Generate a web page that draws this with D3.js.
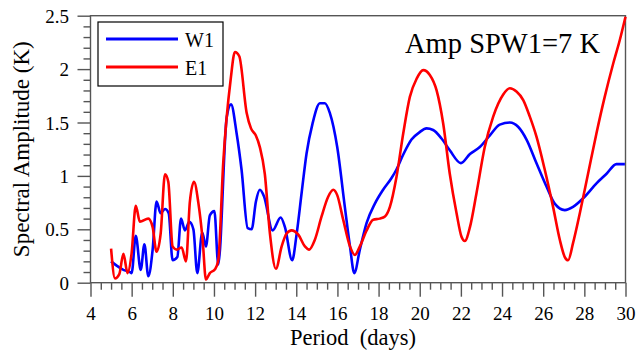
<!DOCTYPE html>
<html><head><meta charset="utf-8">
<script src="https://cdn.jsdelivr.net/npm/d3@7"></script>
<style>html,body{margin:0;padding:0;background:#fff;}</style></head>
<body><svg id="c" width="638" height="351"></svg>
<script>
// ---- data ----
const w1Period = [5.0,5.27,5.6,5.92,6.0,6.2,6.44,6.62,6.81,7.02,7.21,7.41,7.62,7.8,7.99,8.22,8.4,8.59,8.8,9.0,9.19,9.43,9.61,9.8,10.02,10.21,10.62,10.83,11.1,11.34,11.64,11.83,12.04,12.23,12.43,12.85,13.24,13.45,13.8,14.02,14.26,14.5,14.79,15.15,15.39,15.63,15.99,16.36,16.61,16.82,17.09,17.42,17.82,18.22,18.63,18.87,19.2,19.6,20.0,20.33,20.65,21.06,21.46,22.0,22.44,22.92,23.41,23.89,24.38,24.78,25.19,25.67,26.16,26.56,27.05,27.45,27.94,28.59,29.08,29.56,29.97];
const w1Amp = [0.20,0.16,0.12,0.10,0.09,0.44,0.12,0.36,0.06,0.31,0.76,0.65,0.69,0.65,0.21,0.24,0.60,0.49,0.57,0.50,0.09,0.47,0.34,0.63,0.67,0.17,1.55,1.67,1.40,1.06,0.51,0.50,0.76,0.87,0.81,0.49,0.61,0.52,0.21,0.46,0.84,1.21,1.49,1.68,1.68,1.59,1.27,0.71,0.34,0.09,0.31,0.56,0.74,0.87,0.98,1.06,1.20,1.34,1.41,1.445,1.43,1.35,1.24,1.12,1.205,1.27,1.38,1.48,1.50,1.46,1.34,1.12,0.90,0.74,0.68,0.71,0.79,0.93,1.02,1.11,1.11];
const e1Period = [5.0,5.19,5.4,5.6,5.8,6.0,6.2,6.4,6.81,7.02,7.21,7.41,7.62,7.78,7.99,8.19,8.43,8.64,8.83,9.03,9.24,9.45,9.61,9.8,10.05,10.21,10.45,10.81,11.02,11.23,11.59,11.8,12.03,12.23,12.47,12.72,13.01,13.29,13.53,13.77,14.1,14.42,14.63,14.9,15.23,15.55,15.8,15.99,16.28,16.61,16.85,17.09,17.42,17.74,18.06,18.31,18.55,18.87,19.2,19.52,19.85,20.17,20.49,20.82,21.14,21.46,21.79,22.03,22.19,22.44,22.76,23.16,23.57,24.05,24.38,24.7,25.03,25.35,25.67,26.08,26.48,26.81,27.05,27.21,27.45,27.78,28.18,28.59,28.99,29.4,29.72,30.0];
const e1Amp = [0.32,0.04,0.08,0.27,0.09,0.28,0.72,0.57,0.60,0.52,0.29,0.46,1.015,0.945,0.34,0.31,0.33,0.20,0.76,0.945,0.75,0.40,0.03,0.09,0.125,0.21,1.12,1.90,2.16,2.12,1.59,1.445,1.38,1.27,1.02,0.46,0.13,0.34,0.46,0.49,0.45,0.34,0.31,0.40,0.62,0.805,0.87,0.82,0.59,0.34,0.26,0.34,0.49,0.59,0.60,0.62,0.71,0.99,1.40,1.74,1.91,1.99,1.945,1.80,1.49,1.02,0.65,0.43,0.39,0.52,0.84,1.27,1.555,1.76,1.82,1.79,1.71,1.555,1.37,1.055,0.71,0.40,0.24,0.21,0.37,0.65,1.02,1.40,1.74,2.05,2.27,2.49];
const xTickLabels = [4,6,8,10,12,14,16,18,20,22,24,26,28,30];
const yTickLabels = [0,0.5,1,1.5,2,2.5];
const seriesNames = ["W1","E1"];
const seriesColors = ["#0000ff","#ff0000"];
const titleText = "Amp SPW1=7 K";

// ---- layout ----
const FONT = "'Liberation Serif'";
const L = 90.5, R = 625.5, T = 15.7, B = 282.7;
const axisColor = "#555";
const svg = d3.select("#c");
svg.append("rect").attr("width",638).attr("height",351).attr("fill","#fff");

const x = d3.scaleLinear().domain([4,30]).range([L,R]);
const y = d3.scaleLinear().domain([0,2.5]).range([B,T]);

const xMinor = d3.range(4,30.001,0.5).filter(v=>!xTickLabels.includes(v));
const yMinor = d3.range(0,2.5001,0.1).map(v=>+v.toFixed(2)).filter(v=>!yTickLabels.some(t=>Math.abs(t-v)<1e-6));

const gx = svg.append("g").attr("transform",`translate(0,${B})`);
gx.call(d3.axisBottom(x).tickValues(xMinor).tickSize(7).tickFormat(""));
gx.select(".domain").remove();
const gx2 = svg.append("g").attr("transform",`translate(0,${B})`);
gx2.call(d3.axisBottom(x).tickValues(xTickLabels).tickSize(14).tickFormat(d3.format("d")));
gx2.select(".domain").remove();
gx2.selectAll("text").attr("dy",null).attr("y",37.3).attr("fill","#000")
  .style("font-family",FONT).style("font-size","19px");

const gy = svg.append("g").attr("transform",`translate(${L},0)`);
gy.call(d3.axisLeft(y).tickValues(yMinor).tickSize(7).tickFormat(""));
gy.select(".domain").remove();
const gy2 = svg.append("g").attr("transform",`translate(${L},0)`);
gy2.call(d3.axisLeft(y).tickValues(yTickLabels).tickSize(13).tickFormat(d=>String(d)));
gy2.select(".domain").remove();
gy2.selectAll("text").attr("dy","0.35em").attr("x",-21.5).attr("fill","#000")
  .style("font-family",FONT).style("font-size","19px");

svg.selectAll(".tick line").attr("stroke",axisColor).attr("stroke-width",1.4);

svg.append("rect").attr("x",L).attr("y",T).attr("width",R-L).attr("height",B-T)
  .attr("fill","none").attr("stroke",axisColor).attr("stroke-width",1.4);

svg.append("clipPath").attr("id","pc").append("rect")
  .attr("x",L).attr("y",T-2).attr("width",R-L+2).attr("height",B-T+4);
const line = d3.line().x(d=>x(d[0])).y(d=>y(d[1])).curve(d3.curveMonotoneX);
const series = [d3.zip(w1Period,w1Amp), d3.zip(e1Period,e1Amp)];
series.forEach((s,i)=>{
  svg.append("path").datum(s).attr("d",line).attr("fill","none")
    .attr("stroke",seriesColors[i]).attr("stroke-width",2.6)
    .attr("stroke-linejoin","round").attr("clip-path","url(#pc)");
});

const lg = svg.append("g");
lg.append("rect").attr("x",98).attr("y",22).attr("width",125).attr("height",64)
  .attr("fill","#fff").attr("stroke","#000").attr("stroke-width",1.2);
seriesNames.forEach((n,i)=>{
  const yy = 39 + i*28;
  lg.append("line").attr("x1",106).attr("x2",178).attr("y1",yy).attr("y2",yy)
    .attr("stroke",seriesColors[i]).attr("stroke-width",2.8);
  lg.append("text").attr("x",185).attr("y",yy+7.5).style("font-family",FONT).style("font-size","20px").text(n);
});

svg.append("text").attr("x",405).attr("y",53).style("font-family",FONT).style("font-size","28.5px").text(titleText);

svg.append("text").attr("x",353).attr("y",345).attr("text-anchor","middle")
  .style("font-family",FONT).style("font-size","22.5px").style("white-space","pre").text("Period  (days)");
svg.append("text").attr("transform",`translate(29,${(T+B)/2}) rotate(-90)`)
  .attr("text-anchor","middle").style("font-family",FONT).style("font-size","23px").text("Spectral Amplitude (K)");
</script></body></html>
